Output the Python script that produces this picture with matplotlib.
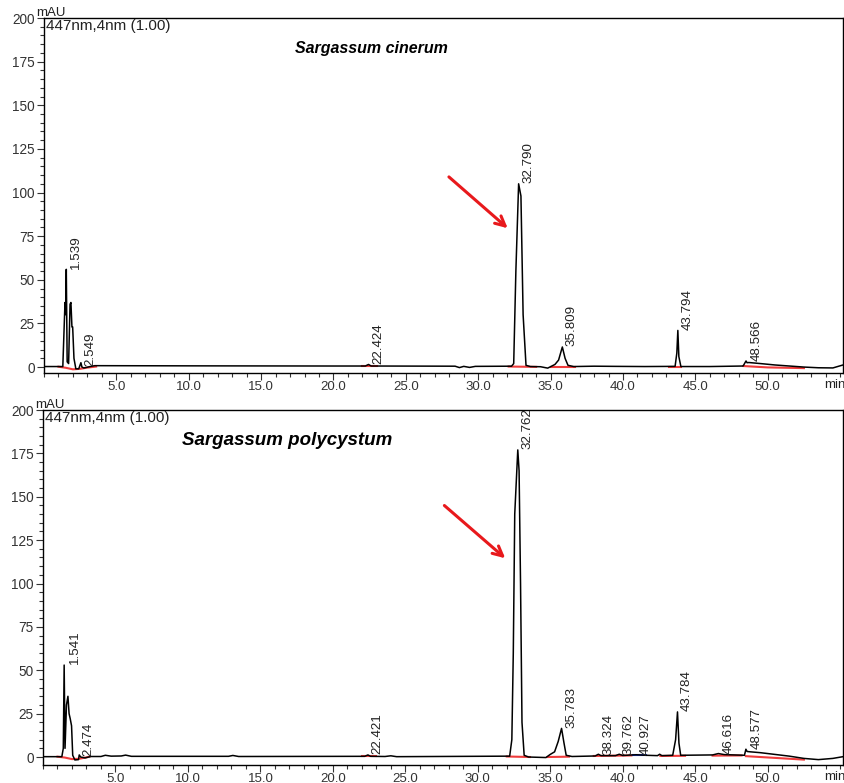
import matplotlib.pyplot as plt
from matplotlib.ticker import MultipleLocator

plt.rcParams['font.family'] = ['Liberation Sans', 'DejaVu Sans']

# chromatogram traces: (retention time min, mAU)
cinerum_trace = [
    (0.0, 0.3), (1.3, 0.3), (1.45, 37), (1.5, 30), (1.54, 56), (1.6, 3), (1.7, 2),
    (1.8, 36), (1.86, 37), (1.93, 23), (1.98, 23), (2.07, 5), (2.2, -1), (2.4, -1),
    (2.55, 2.5), (2.62, 0), (2.75, -0.5), (3.2, 0.3), (3.5, 0.8), (10.0, 0.7),
    (20.0, 0.6), (22.2, 0.6), (22.42, 1.5), (22.6, 0.6), (28.4, 0.5), (28.7, -0.3),
    (29.0, 0.4), (29.4, -0.2), (29.8, 0.4), (32.3, 0.5), (32.45, 2), (32.6, 55),
    (32.79, 105), (32.95, 98), (33.1, 30), (33.3, 1), (33.6, 0.3), (34.3, 0.2),
    (34.8, -0.6), (35.3, 1.5), (35.55, 4), (35.81, 11.5), (36.0, 5), (36.2, 1),
    (36.6, 0.3), (38.0, 0.5), (39.5, 0.4), (41.5, 0.3), (43.6, 0.4), (43.72, 8),
    (43.79, 21), (43.86, 6), (44.0, 0.3), (46.0, 0.3), (48.3, 0.6), (48.5, 3.5),
    (48.57, 2.5), (48.7, 2.6), (49.5, 2.0), (50.5, 1.2), (51.5, 0.6), (52.5, 0.0),
    (53.5, -0.4), (54.5, -0.5), (55.2, 1.2),
]

polycystum_trace = [
    (0.0, 0.2), (1.3, 0.2), (1.4, 5), (1.46, 53), (1.52, 5), (1.62, 30), (1.72, 35),
    (1.8, 25), (1.88, 22), (1.97, 18), (2.05, 1), (2.2, -1.7), (2.45, -1.5),
    (2.5, 1.2), (2.6, 0), (2.9, -0.5), (3.3, 0.3), (4.0, 0.3), (4.3, 1.0), (4.7, 0.5),
    (5.4, 0.6), (5.7, 1.1), (6.1, 0.4), (12.8, 0.4), (13.1, 0.9), (13.5, 0.3),
    (22.2, 0.4), (22.42, 1.2), (22.6, 0.4), (23.6, 0.3), (24.0, 0.7), (24.4, 0.2),
    (32.2, 0.5), (32.35, 10), (32.45, 60), (32.55, 140), (32.76, 177), (32.85, 165),
    (32.95, 100), (33.05, 20), (33.2, 1), (33.5, 0), (34.7, -0.3), (35.0, 1.5),
    (35.3, 3), (35.55, 9), (35.78, 16.5), (35.95, 8), (36.1, 1), (36.5, 0.3),
    (38.1, 0.6), (38.32, 1.6), (38.5, 0.8), (39.5, 0.8), (39.76, 1.6), (40.0, 0.9),
    (40.93, 1.3), (41.6, 1.0), (42.4, 0.8), (42.55, 1.6), (42.7, 0.8), (43.45, 1.0),
    (43.65, 10), (43.78, 26), (43.88, 8), (44.0, 1), (46.2, 1.2), (46.6, 2.0),
    (47.0, 1.4), (48.4, 1.0), (48.5, 4.5), (48.58, 3.2), (48.8, 3.0), (49.5, 2.5),
    (50.5, 1.5), (51.5, 0.5), (52.5, -0.8), (53.5, -1.5), (54.5, -0.8), (55.2, 0.2),
]

# labelled peaks: retention time and apex height
cinerum_peaks = [1.539, 2.549, 22.424, 32.790, 35.809, 43.794, 48.566]
cinerum_heights = [56, 0.3, 1.5, 105, 11.5, 21, 3]
polycystum_peaks = [1.541, 2.474, 22.421, 32.762, 35.783, 38.324, 39.762,
                    40.927, 43.784, 46.616, 48.577]
polycystum_heights = [53, 0.3, 1.2, 177, 16.5, 1.0, 1.0, 1.0, 26, 1.2, 4.5]

# integration baselines drawn in red (and one blue)
cinerum_baselines = [
    [(1.0, 0.2), (1.5, -0.4), (2.0, -1.3), (2.5, -1.0), (3.0, -0.3), (3.6, 0.3)],
    [(22.0, 0.6), (23.0, 0.6)],
    [(32.1, 0.3), (34.0, 0.1)],
    [(35.0, 0.2), (36.7, 0.2)],
    [(43.2, 0.3), (44.0, 0.3)],
    [(48.3, 0.6), (50.0, -0.2), (52.5, -0.6)],
]
polycystum_baselines = [
    [(1.0, 0.2), (1.5, -0.3), (2.0, -1.2), (2.5, -1.0), (3.0, -0.2), (3.2, 0.2)],
    [(22.0, 0.4), (23.0, 0.4)],
    [(32.0, 0.3), (33.6, 0.0)],
    [(34.8, 0.0), (36.3, 0.2)],
    [(38.0, 0.6), (40.6, 0.9)],
    [(42.6, 0.6), (44.3, 0.7)],
    [(46.2, 0.8), (48.2, 0.9)],
    [(48.5, 0.5), (50.5, -0.5), (52.5, -1.5)],
]
polycystum_blue = [[(40.7, 1.0), (41.6, 1.0)]]

# red arrows pointing at the main peak: (tail t, tail v, head t, head v)
cinerum_arrow = (27.83, 110, 32.18, 78.5)
polycystum_arrow = (27.55, 146, 32.04, 113.5)

fig = plt.figure(figsize=(8.45, 7.83), dpi=100)
ax_top = fig.add_axes([44 / 845, 1 - 373 / 783, 799 / 845, 355 / 783])
ax_bot = fig.add_axes([43 / 845, 1 - 765 / 783, 800 / 845, 355 / 783])


def draw_panel(ax, trace, peaks, heights, baselines, arrow, title, title_x, title_size,
               ymin, blue=()):
    t, v = zip(*trace)
    for seg in baselines:
        bt, bv = zip(*seg)
        ax.plot(bt, bv, color='#f03c3c', lw=1.5, zorder=2)
    for seg in blue:
        bt, bv = zip(*seg)
        ax.plot(bt, bv, color='#2040e0', lw=1.5, zorder=2)
    ax.plot(t, v, color='black', lw=1.1, zorder=3)

    for rt, h in zip(peaks, heights):
        ax.annotate(f'{rt:.3f}', xy=(rt, h), xytext=(2.6, 0.5), textcoords='offset points',
                    rotation=90, ha='left', va='bottom', fontsize=9.6, color='#222222')

    ax.annotate('', xy=(arrow[2], arrow[3]), xytext=(arrow[0], arrow[1]),
                arrowprops=dict(arrowstyle='->,head_length=0.7,head_width=0.35',
                                color='#e8191c', lw=2.2))

    ax.text(title_x, 0.915, title, transform=ax.transAxes, fontsize=title_size,
            fontweight='bold', fontstyle='italic', ha='left', va='center')
    ax.text(0.002, 0.998, '447nm,4nm (1.00)', transform=ax.transAxes, fontsize=11,
            ha='left', va='top', color='#222222')
    ax.annotate('mAU', xy=(0, 1), xycoords='axes fraction', xytext=(-6, -1),
                textcoords='offset points', ha='left', va='bottom', fontsize=9.5,
                color='#222222')
    ax.annotate('min', xy=(0.99, 0), xycoords='axes fraction', xytext=(0, -4),
                textcoords='offset points', ha='center', va='top', fontsize=9.5,
                color='#222222')

    ax.set_xlim(0, 55.2)
    ax.set_ylim(ymin, 200)
    ax.set_xticks([5, 10, 15, 20, 25, 30, 35, 40, 45, 50])
    ax.set_xticklabels([f'{x:.1f}' for x in range(5, 55, 5)])
    ax.set_yticks(range(0, 201, 25))
    ax.xaxis.set_minor_locator(MultipleLocator(1))
    ax.yaxis.set_minor_locator(MultipleLocator(5))
    ax.tick_params(axis='both', which='major', direction='out', length=5, width=0.8,
                   colors='#333333', pad=1.5)
    ax.tick_params(axis='x', which='major', pad=0.5)
    ax.tick_params(axis='both', which='minor', direction='out', length=3, width=0.8,
                   colors='#333333')
    ax.tick_params(axis='x', labelsize=9.5)
    ax.tick_params(axis='y', labelsize=9.8)
    for sp in ax.spines.values():
        sp.set_linewidth(1.0)
        sp.set_color('black')


draw_panel(ax_top, cinerum_trace, cinerum_peaks, cinerum_heights, cinerum_baselines,
           cinerum_arrow, 'Sargassum cinerum', 0.314, 11.5, -3.4)
draw_panel(ax_bot, polycystum_trace, polycystum_peaks, polycystum_heights,
           polycystum_baselines, polycystum_arrow, 'Sargassum polycystum', 0.174, 13.5,
           -4.6, blue=polycystum_blue)

fig.savefig('out.png', dpi=100)
